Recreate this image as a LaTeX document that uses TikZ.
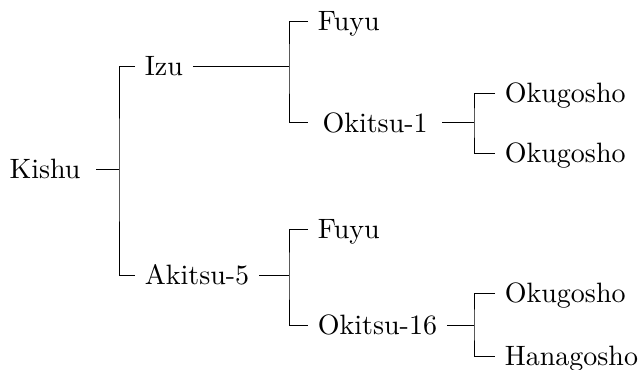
\documentclass[tikz,border=0pt]{standalone}

\tikzset{every picture/.style={line width=0.75pt}}
\tikzset{leaf/.style={anchor=west, inner xsep=7pt, inner ysep=0.75pt, text height=14.3pt, text depth=0pt, font=\fontsize{10}{12}\selectfont}}
\newcommand{\lbl}[1]{\scalebox{2.1}{#1}}

\begin{document}
\begin{tikzpicture}[x=0.75pt,y=0.75pt,yscale=-1,xscale=1]
\useasboundingbox (0,0) rectangle (642,369);

% Text Node
\node [leaf, anchor=east, inner xsep=11.25pt] (kishu) at (96,169) {\lbl{Kishu}};
% Text Node
\node [leaf] (izu) at (135,66) {\lbl{Izu}};
% Text Node
\node [leaf] (akitsu) at (135,275) {\lbl{Akitsu-5}};
% Text Node
\node [leaf] (fuyuI) at (308,21) {\lbl{Fuyu}};
% Text Node
\node [leaf, inner xsep=10.5pt] (okitsuI) at (308,122.5) {\lbl{Okitsu-1}};
% Text Node
\node [leaf] (fuyuA) at (308,229) {\lbl{Fuyu}};
% Text Node
\node [leaf] (okitsuA) at (308,325) {\lbl{Okitsu-16}};
% Text Node
\node [leaf] (okuI1) at (495,93) {\lbl{Okugosho}};
% Text Node
\node [leaf] (okuI2) at (495,153) {\lbl{Okugosho}};
% Text Node
\node [leaf] (okuA) at (495,293) {\lbl{Okugosho}};
% Text Node
\node [leaf] (hanaA) at (495,356) {\lbl{Hanagosho}};

% Junctions
\coordinate (jKishu) at (119,169);
\coordinate (jIzu) at (289,66);
\coordinate (jAkitsu) at (289,275);
\coordinate (jOkitsuI) at (474,122.5);
\coordinate (jOkitsuA) at (474,325);

%Straight Lines
\draw (kishu.east) -- (jKishu);
\draw (izu.west) -| (jKishu) |- (akitsu.west);
%Straight Lines
\draw (izu.east) -- (jIzu);
\draw (fuyuI.west) -| (jIzu) |- (okitsuI.west);
%Straight Lines
\draw (akitsu.east) -- (jAkitsu);
\draw (fuyuA.west) -| (jAkitsu) |- (okitsuA.west);
%Straight Lines
\draw (okitsuI.east) -- (jOkitsuI);
\draw (okuI1.west) -| (jOkitsuI) |- (okuI2.west);
%Straight Lines
\draw (okitsuA.east) -- (jOkitsuA);
\draw (okuA.west) -| (jOkitsuA) |- (hanaA.west);

\end{tikzpicture}
\end{document}
